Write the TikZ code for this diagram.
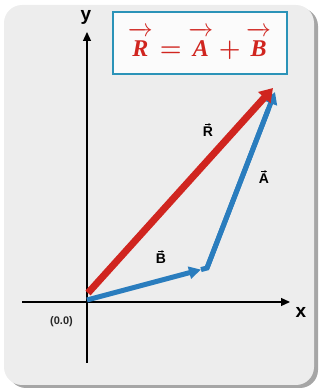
\documentclass[tikz,border=0pt]{standalone}
\usepackage{amsmath}
\usepackage{fontspec}
\setmainfont{Liberation Serif}
\setsansfont{Liberation Sans}
\usepackage{tikz}
\usetikzlibrary{arrows.meta, positioning, calc}
\definecolor{vecred}{HTML}{D0251F}
\definecolor{vecblue}{HTML}{2A7DBE}
\definecolor{boxblue}{HTML}{2B93B8}
\definecolor{cardgray}{HTML}{EDEDED}
\newcommand{\bivec}[1]{\overrightarrow{\rule{0pt}{0.86em}\text{\bfseries\itshape #1}}}
\tikzset{
  axis/.style={line width=1.2pt, -{Triangle[length=9pt,width=8pt]}},
  axislabel/.style={font=\sffamily\bfseries\fontsize{19}{21}\selectfont},
  veclabel/.style={font=\sffamily\bfseries\fontsize{14}{16}\selectfont, inner sep=1pt},
  labarrow/.style={line width=0.7pt, -{Stealth[length=2.5pt,width=2.5pt]}},
  redvec/.style={vecred, line width=7pt, -{Triangle[length=13pt,width=16pt]}},
  bluevec/.style={vecblue, line width=5pt}
}
\begin{document}
\begin{tikzpicture}[x=1pt,y=1pt]
\useasboundingbox (0,0) rectangle (324,389);
% card with shadow
\fill[gray!70, rounded corners=18pt] (8,1) rectangle (318,381);
\fill[cardgray, rounded corners=18pt] (4,4) rectangle (314,384);

% formula box
\node[draw=boxblue, line width=2pt, fill=white!97!gray, minimum width=174pt, minimum height=62pt,
      text=vecred, font=\fontsize{24}{27}\selectfont] (formula) at (199.5,345.5)
  {$\bivec{R}\boldsymbol{=}\bivec{A}\boldsymbol{+}\bivec{B}$};

% axes
\coordinate (O) at (87,87);
\coordinate (ybot) at (87,26);
\coordinate (ytop) at (87,357);
\coordinate (xleft) at (22,87);
\coordinate (xright) at (290,87);
\draw[axis] (ybot) -- (ytop);
\draw[axis] (xleft) -- (xright);
\node[axislabel] (ylab) at (86,372) {y};
\node[axislabel] (xlab) at (301,77) {x};
\node[font=\sffamily\bfseries\fontsize{11}{13}\selectfont, text=black!85] (orig) at (61.5,67) {(0.0)};

% vectors
\coordinate (Bstart) at (87,89);
\coordinate (Bend) at (207,121);
\coordinate (Bhead) at (201,119.4);
\coordinate (Atip) at (275,297);
\coordinate (Rstart) at (88,96);
\coordinate (Rtip) at (273,301);
\draw[bluevec, -{Triangle[length=12pt,width=12pt]}] (Bstart) -- (Bhead);
\draw[bluevec, line join=miter] (Bhead) -- (Bend) -- ($(Bend)!0.9!(Atip)$);
\draw[bluevec, -{Triangle[length=12pt,width=13pt]}] (Bend) -- (Atip);
\draw[redvec] (Rstart) -- (Rtip);

% labels with small arrows
\node[veclabel] (Rlab) at (208,257) {R};
\node[veclabel] (Alab) at (264,210) {A};
\node[veclabel] (Blab) at (161,130) {B};
\foreach \n in {Rlab,Alab,Blab}
  \draw[labarrow] ([xshift=-3pt,yshift=1.5pt]\n.north) -- ([xshift=3pt,yshift=1.5pt]\n.north);
\end{tikzpicture}
\end{document}
